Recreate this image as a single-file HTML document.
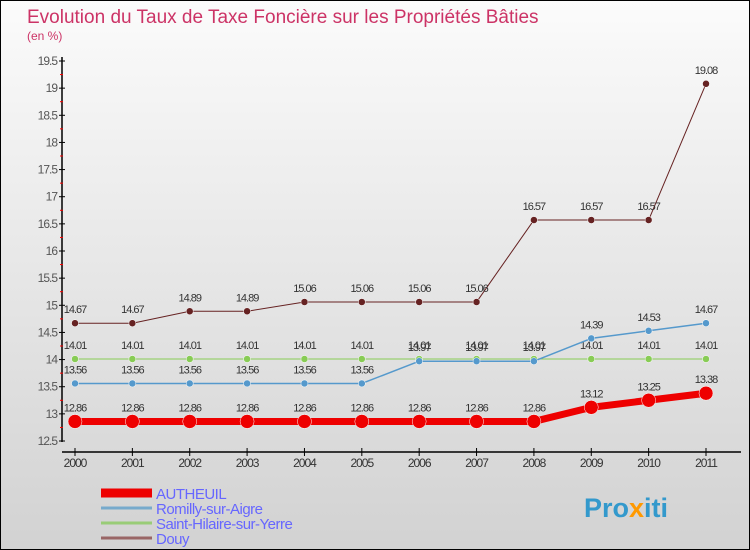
<!DOCTYPE html>
<html><head><meta charset="utf-8"><style>
body{margin:0}
#c{width:750px;height:550px;position:relative;box-sizing:border-box;border:1px solid #000;background:linear-gradient(#fbfbfb,#d2d2d2);font-family:"Liberation Sans",sans-serif;overflow:hidden}
svg{position:absolute;left:0;top:0}
</style></head><body>
<div id="c">
<svg id="s" width="750" height="550">
<text x="26" y="22" font-size="19" fill="#cc3366">Evolution du Taux de Taxe Foncière sur les Propriétés Bâties</text>
<text x="26" y="39" font-size="12" fill="#cc3366">(en %)</text>
<text x="583" y="516" font-size="27" font-weight="bold" fill="#3399cc">Pro<tspan fill="#ff9900">x</tspan>iti</text>
</svg>
</div>
<script>
const years=[2000,2001,2002,2003,2004,2005,2006,2007,2008,2009,2010,2011];
const autheuil=[12.86,12.86,12.86,12.86,12.86,12.86,12.86,12.86,12.86,13.12,13.25,13.38];
const romilly=[13.56,13.56,13.56,13.56,13.56,13.56,13.97,13.97,13.97,14.39,14.53,14.67];
const stHilaire=[14.01,14.01,14.01,14.01,14.01,14.01,14.01,14.01,14.01,14.01,14.01,14.01];
const douy=[14.67,14.67,14.89,14.89,15.06,15.06,15.06,15.06,16.57,16.57,16.57,19.08];
const yTicks=[12.5,13,13.5,14,14.5,15,15.5,16,16.5,17,17.5,18,18.5,19,19.5];
const NS="http://www.w3.org/2000/svg";
const s=document.getElementById('s');
const X=i=>74+i*(705-74)/(years.length-1);
const Y=v=>440-(v-12.5)*(440-60)/7;
function el(t,a,p){const e=document.createElementNS(NS,t);for(const k in a)e.setAttribute(k,a[k]);(p||s).appendChild(e);return e;}
function fmt(v){return v.toFixed(2);}
let ax=el('line',{x1:61,y1:56,x2:61,y2:441,stroke:'#000','stroke-width':1.5});

let bx=el('line',{x1:61,y1:451,x2:740,y2:451,stroke:'#000','stroke-width':1.5});

yTicks.forEach((v,i)=>{
 el('line',{x1:58,y1:Y(v),x2:64,y2:Y(v),stroke:'#000'});
 if(i<yTicks.length-1)el('line',{x1:59,y1:Y(v+0.25),x2:62,y2:Y(v+0.25),stroke:'#f00'});
 const t=el('text',{x:56,y:Y(v)+4,'text-anchor':'end','font-size':12,fill:'#555','letter-spacing':'-1'});
 
 t.textContent=v;
});
years.forEach((y,i)=>{
 el('line',{x1:X(i),y1:447,x2:X(i),y2:455,stroke:'#000'});
 const t=el('text',{x:X(i),y:466,'text-anchor':'middle','font-size':12,fill:'#333','letter-spacing':'-1'});
 
 t.textContent=y;
});
function series(data,color,w,r,name){
 const g=el('g',{});
 
 el('polyline',{points:data.map((v,i)=>X(i)+','+Y(v)).join(' '),fill:'none',stroke:color,'stroke-width':w,'stroke-linejoin':'round'},g);
 data.forEach((v,i)=>{
  const c=el('circle',{cx:X(i),cy:Y(v),r:r,fill:color,stroke:'#fff','stroke-width':0.5},g);
  
  const t=el('text',{x:X(i),y:Y(v)-10,'text-anchor':'middle','font-size':11,fill:'#333','letter-spacing':'-1'},g);
  
  t.textContent=fmt(v);
 });
}
series(douy,'#662222',1,3.5,'douy');
series(stHilaire,'#88cc55',1,3.5,'saint-hilaire');
series(romilly,'#5599cc',1.5,3.5,'romilly');
series(autheuil,'#ee0000',7,7,'autheuil');
const leg=[['AUTHEUIL','#ee0000',9],['Romilly-sur-Aigre','#77aacc',3],['Saint-Hilaire-sur-Yerre','#99cc77',3],['Douy','#996666',3]];
leg.forEach((l,i)=>{
 const y=492+i*15;
 const g=el('g',{});
 
 
 el('line',{x1:100,y1:y,x2:151,y2:y,stroke:l[1],'stroke-width':l[2]},g);
 const t=el('text',{x:155,y:y+6,'font-size':15,fill:'#6666ff','letter-spacing':'-0.5'},g);
 t.textContent=l[0];
});
</script>
</body></html>
